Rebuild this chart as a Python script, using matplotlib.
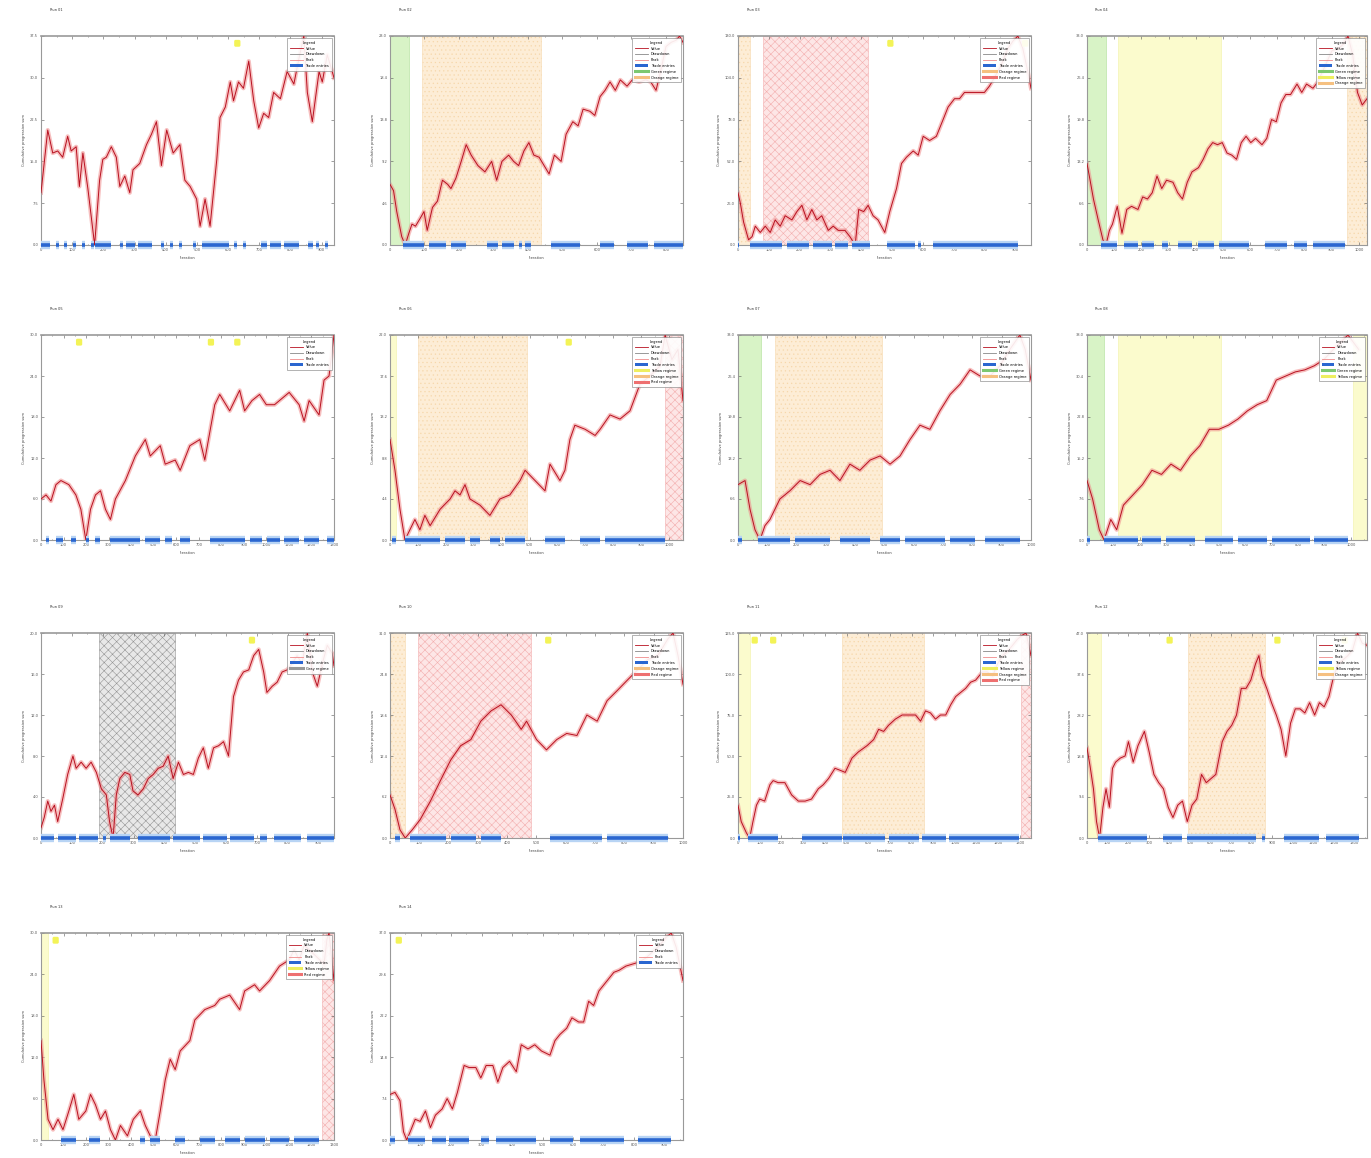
import numpy as np
import matplotlib
matplotlib.use('Agg')
import matplotlib.pyplot as plt
from matplotlib.lines import Line2D
from matplotlib.patches import Patch
from matplotlib.ticker import MultipleLocator, AutoMinorLocator

# ---- data (x and y in percent of each run's length / peak) ----
titles = ['Run 01', 'Run 02', 'Run 03', 'Run 04', 'Run 05', 'Run 06', 'Run 07',
          'Run 08', 'Run 09', 'Run 10', 'Run 11', 'Run 12', 'Run 13', 'Run 14']
x_max = [940, 850, 950, 1030, 1300, 1050, 1000, 1060, 950, 1000, 1350, 1360, 1300, 960]
y_max = [37.5, 23.0, 130.0, 33.0, 30.0, 22.0, 33.0, 38.0, 20.0, 31.0, 125.0, 47.0, 30.0, 37.0]

x01 = [0, 2.3, 4, 5.7, 7.4, 9.1, 10.3, 12, 13.1, 14.3, 16, 18.3, 20, 21.1, 22.3, 24, 25.7, 26.9, 28.6, 30.3,
       31.4, 33.7, 36, 37.7, 39.4, 41.1, 42.9, 45.1, 47.4, 49.1, 50.9, 53.1, 54.3, 56, 57.7, 60, 61.1, 62.9,
       64.6, 65.7, 67.4, 69.1, 70.9, 72.6, 74.3, 76, 77.7, 79.4, 81.7, 84, 86.3, 88, 89.7, 90.9, 92.6, 94.9,
       96, 97.7, 100]
y01 = [25, 55, 44, 45, 42, 52, 45, 47, 28, 44, 27, 0, 31, 41, 42, 47, 42, 28, 33, 25,
       36, 39, 48, 53, 59, 38, 55, 44, 48, 31, 28, 22, 9, 22, 9, 41, 61, 66,
       78, 69, 78, 75, 88, 69, 56, 63, 61, 73, 70, 83, 77, 89, 100, 73, 59, 83,
       78, 91, 80]

x02 = [0, 1.2, 2.3, 4, 5.2, 6.4, 7.5, 8.7, 10.4, 11.6, 12.7, 14.5, 16.2, 17.9, 19.7, 20.8, 22.5, 24.3, 26,
       27.7, 30, 32.4, 34.7, 36.4, 38.2, 40.5, 42.2, 43.9, 45.7, 47.4, 49.1, 50.9, 52.6, 54.3, 56.1, 58.4,
       60.1, 62.4, 64.2, 65.9, 68.2, 69.9, 71.7, 73.4, 75.1, 76.9, 78.6, 80.9, 82.7, 85, 87.3, 89, 90.8,
       92.5, 94.2, 96, 97.7, 98.8, 100]
y02 = [29, 26, 16, 4, 0, 5.5, 10, 9, 13, 16, 7, 18, 21, 31, 29, 27, 32, 40, 48,
       43, 38, 35, 40, 31, 40, 43, 40, 38, 45, 49, 43, 42, 38, 34, 43, 40,
       53, 59, 57, 65, 64, 62, 71, 74, 78, 74, 79, 76, 79, 78, 79, 78, 74,
       84, 95, 97, 98, 100, 97]

x03 = [0, 0.8, 1.9, 3.6, 4.8, 5.9, 7.6, 9.3, 11, 12.7, 14.4, 16.1, 18.4, 20.1, 21.8, 23.5, 25.2, 26.9, 28.6,
       30.8, 32.5, 34.2, 36.5, 38.2, 40, 41.2, 42.9, 44.4, 46.1, 47.8, 50.1, 51.8, 54.1, 55.8, 57.5, 59.8,
       61.5, 63.2, 65.4, 67.7, 70, 71.7, 73.9, 75.6, 77.3, 79.6, 81.9, 84.1, 85.8, 87.5, 89.8, 92.1, 93.8,
       95.5, 97.2, 98.9, 100]
y03 = [25, 20, 11, 2.5, 4, 9, 6, 9, 6, 12, 9, 14, 12, 16, 19, 12, 17, 12, 14,
       7, 9, 7, 7, 4, 0, 17, 16, 19, 14, 12, 6, 16, 27, 39, 42, 45,
       43, 52, 50, 52, 60, 66, 70, 70, 73, 73, 73, 73, 76, 80, 86, 94, 97.5,
       100, 94, 83, 75]

x04 = [0, 1.1, 2.3, 4, 5.7, 6.8, 8, 9.1, 10.8, 12.5, 14.2, 15.9, 18.2, 19.9, 21.6, 23.3, 25, 26.7, 28.4,
       30.7, 32.4, 34.1, 35.8, 37.5, 39.8, 41.5, 43.2, 44.9, 46.6, 48.3, 50, 51.7, 53.4, 55.1, 56.8, 58.5,
       60.2, 62.5, 64.2, 65.9, 67.6, 69.3, 71, 72.7, 75, 76.7, 78.4, 80.7, 82.4, 84.1, 85.8, 87.5, 89.8,
       91.5, 93.2, 94.9, 96.6, 98.3, 100]
y04 = [39, 31, 22, 12, 2.4, 0, 7, 10, 18.5, 5.6, 17, 18.5, 17, 23, 22, 25, 33, 27, 31,
       30, 25, 22, 30, 35, 37, 41, 46, 49, 48, 49, 44, 43, 41, 49, 52, 49,
       51, 48, 51, 60, 59, 68, 72, 72, 77, 73, 77, 75, 78, 83, 88, 93, 94,
       96, 100, 91, 73, 67, 70]

x05 = [0, 1.7, 3.4, 5.1, 6.8, 9.5, 11.9, 13.6, 15.3, 16.9, 18.6, 20.3, 22, 23.7, 25.4, 28.8, 32.2, 35.6,
       37.3, 40.7, 42.4, 45.8, 47.5, 50.8, 54.2, 55.9, 59.3, 61, 64.4, 67.8, 69.5, 72, 74.6, 76.9, 79.7,
       84.7, 88.1, 89.8, 91.5, 94.9, 96.6, 98.3, 100]
y05 = [20, 22, 19, 27, 29, 27, 22, 15, 0, 15, 22, 24, 15, 10, 20, 29, 41, 49,
       41, 46, 37, 39, 34, 46, 49, 39, 66, 71, 63, 73, 63, 68, 71, 66, 66,
       72, 66, 58, 68, 61, 78, 80, 100]

x06 = [0, 1.7, 3.4, 5.1, 6.8, 8.5, 10.2, 11.9, 13.7, 17.1, 20.5, 22.2, 23.9, 25.6, 27.3, 30.7, 34.1,
       37.5, 40.9, 44.4, 46.1, 49.5, 52.9, 54.6, 58, 59.7, 61.4, 63.1, 66.6, 70, 71.7, 75.1, 78.5, 81.9,
       85.3, 88.7, 92.2, 93.9, 96.2, 98.3, 100]
y06 = [49, 34, 15, 0, 5, 10, 5, 12, 7, 15, 20, 24, 22, 27, 20, 17, 12, 20,
       22, 29, 34, 29, 24, 37, 29, 34, 49, 56, 54, 51, 54, 61, 59, 63,
       76, 80, 85, 100, 88, 93, 68]

x07 = [0, 2.4, 4.1, 5.8, 7.5, 9.2, 10.9, 12.6, 14.3, 17.7, 21.2, 24.6, 28, 31.4, 34.8, 38.2, 41.6, 45.1,
       48.5, 51.9, 55.3, 58.7, 62.1, 65.5, 68.9, 72.4, 75.8, 79.2, 82.6, 86, 89.4, 92.8, 96.2, 98.0, 100]
y07 = [27, 29, 15, 5, 0, 7, 10, 15, 20, 24, 29, 27, 32, 34, 29, 37, 34, 39,
       41, 37, 41, 49, 56, 54, 63, 71, 76, 83, 80, 80, 85, 93, 100, 93, 78]

x08 = [0, 2, 4.4, 6.1, 8.5, 10.6, 13, 16.4, 19.8, 23.2, 26.6, 30, 33.4, 36.9, 40.3, 43.7, 47.1, 50.5,
       53.9, 57.3, 60.8, 64.2, 67.6, 71, 74.4, 77.8, 81.2, 84.6, 88, 93.2, 97]
y08 = [29, 20, 5, 0, 10, 5, 17, 22, 27, 34, 32, 37, 34, 41, 46, 54, 54, 56,
       59, 63, 66, 68, 78, 80, 82, 83, 85, 88, 93, 100, 93]

x09 = [0, 1.1, 2.3, 3.4, 4.6, 5.7, 7.4, 9.1, 10.9, 12, 13.7, 15.4, 17.1, 18.9, 20.6, 22.3, 23.4, 24.6,
       25.7, 26.9, 28.6, 30.3, 31.4, 33.1, 34.9, 36.6, 38.3, 40, 41.7, 43.4, 45.1, 46.9, 48.6, 50.3, 52,
       53.7, 55.4, 57.1, 58.9, 60.6, 62.3, 64, 65.7, 67.4, 69.1, 70.9, 72.6, 74.3, 76, 77.1, 78.9, 80.6,
       82.3, 84, 85.7, 87.4, 89.1, 90.9, 92.6, 94.3, 96, 97.7, 99.4, 100]
y09 = [5, 10, 18, 13, 16, 8, 19, 31, 40, 34, 37, 34, 37, 32, 24, 21, 8, 0,
       21, 29, 32, 31, 23, 21, 24, 29, 31, 34, 35, 40, 29, 37, 31, 32, 31,
       39, 44, 34, 44, 45, 47, 40, 69, 77, 81, 82, 89, 92, 81, 71, 74, 76,
       81, 82, 85, 89, 85, 100, 81, 74, 85, 94, 90, 84]

x10 = [0, 1.7, 3.4, 5.2, 7.6, 10.3, 13.8, 17.2, 20.7, 24.1, 27.6, 31, 34.5, 37.9, 41.4, 44.8, 46.6, 50,
       53.4, 56.9, 60.3, 63.8, 67.2, 70.7, 74.1, 77.6, 81, 84.5, 87.9, 91.4, 94.8, 96.6, 98.3, 100]
y10 = [21, 14, 4, 0, 4, 9, 18, 28, 38, 45, 48, 57, 62, 65, 60, 53, 57, 48,
       43, 48, 51, 50, 60, 57, 67, 72, 77, 82, 87, 89, 97, 100, 89, 75]

x11 = [0, 1.1, 2.9, 4, 5.1, 6.3, 7.4, 9.1, 10.9, 12, 13.7, 16, 18.3, 20.6, 22.9, 25.1, 27.4, 29.1, 30.9,
       33.1, 34.9, 36.6, 38.9, 41.1, 44, 46.3, 48, 49.7, 51.4, 53.7, 56, 58.3, 60.6, 62.3, 64, 65.7, 67.4,
       69.1, 70.9, 72.6, 74.3, 76, 77.7, 79.4, 81.1, 83.4, 85.1, 86.9, 88.6, 90.3, 92, 93.7, 95.4, 97.1,
       98.3, 100]
y11 = [16, 8, 2.4, 0, 8, 16, 19, 18, 26, 28, 27, 27, 21, 18, 18, 19, 24, 26, 29,
       34, 33, 32, 39, 42, 45, 48, 53, 52, 55, 58, 60, 60, 60, 57, 62, 61, 58,
       60, 60, 65, 69, 71, 73, 76, 77, 81, 81, 79, 85, 89, 91, 94, 97, 99,
       100, 89]

x12 = [0, 1.1, 2.3, 3.4, 4.5, 5.7, 6.8, 8, 9.1, 10.2, 11.9, 13.6, 14.8, 16.5, 18.2, 20.5, 22.2, 23.9,
       25.6, 27.3, 29, 30.7, 32.4, 34.1, 35.8, 37.5, 39.2, 40.9, 42.6, 44.3, 46, 48.3, 50, 51.7, 53.4,
       55.1, 56.8, 58.5, 60.2, 61.4, 62.5, 64.2, 65.9, 67.6, 69.3, 71, 72.7, 74.4, 76.1, 77.8, 79.5,
       81.3, 83, 84.7, 86.4, 88.1, 89.8, 91.5, 93.2, 94.9, 96.6, 98.3, 100]
y12 = [44, 35, 24, 8, 0, 15, 24, 15, 34, 37, 39, 40, 47, 37, 45, 52, 42, 31,
       27, 24, 15, 10, 16, 18, 8, 16, 19, 31, 27, 29, 31, 47, 52, 55, 60,
       73, 73, 77, 85, 89, 79, 73, 66, 60, 53, 40, 56, 63, 63, 61, 66,
       60, 66, 64, 69, 79, 85, 87, 89, 92, 100, 95, 94]

x13 = [0, 1, 2.4, 4.1, 5.8, 7.5, 9.5, 11.2, 12.9, 15.3, 16.9, 18.6, 20.3, 22, 23.7, 25.4, 27.1, 29.5,
       31.5, 33.9, 35.6, 37.3, 39, 40.7, 42.4, 44.1, 45.8, 47.5, 50.8, 52.5, 55.9, 59.3, 61, 64.4, 67.8,
       69.5, 72.9, 74.6, 78, 81.4, 84.7, 86.4, 88.1, 89.8, 91.5, 96.6, 97.6, 98.3, 100]
y13 = [48, 29, 10, 5, 10, 5, 14, 22, 10, 14, 22, 17, 10, 14, 5, 0, 7, 2,
       10, 14, 7, 2, 0, 14, 29, 39, 34, 43, 48, 58, 63, 65, 68, 70, 63,
       72, 75, 72, 77, 84, 87, 92, 87, 94, 92, 85, 97, 100, 77]

x14 = [0, 1.7, 3.4, 4.6, 5.7, 6.9, 8.6, 10.3, 12.1, 13.8, 15.5, 17.8, 19.5, 21.3, 23, 25.3, 27, 29.3, 31,
       32.8, 35.1, 36.8, 38.5, 40.8, 43.1, 44.8, 47.1, 49.4, 51.7, 54.6, 56.3, 58, 60.3, 62.1, 64.4, 66.1,
       67.8, 69.5, 71.3, 73, 74.7, 76.4, 78.2, 80.5, 82.8, 85.1, 87.4, 89.7, 92, 94.3, 96, 97.7, 100]
y14 = [22, 23, 19, 4, 0, 4, 10, 9, 14, 6, 12, 15, 20, 15, 23, 36, 35, 35, 30,
       36, 36, 28, 35, 38, 33, 46, 44, 46, 43, 41, 48, 51, 54, 59, 57, 57,
       67, 65, 72, 75, 78, 81, 82, 84, 85, 86, 88, 91, 94, 98, 100, 93, 77]

line_x = [x01, x02, x03, x04, x05, x06, x07, x08, x09, x10, x11, x12, x13, x14]
line_y = [y01, y02, y03, y04, y05, y06, y07, y08, y09, y10, y11, y12, y13, y14]

# shaded regimes: (start %, end %, kind)
regimes = [
    [],
    [(0, 6.4, 'green'), (11, 51.4, 'orange')],
    [(0, 4.2, 'orange'), (8.7, 44.4, 'red')],
    [(0, 6.8, 'green'), (11.1, 47.7, 'yellow'), (93, 100, 'orange')],
    [],
    [(0, 2, 'yellow'), (9.6, 46.8, 'orange'), (93.9, 100, 'red')],
    [(0, 8, 'green'), (12.6, 49, 'orange')],
    [(0, 6, 'green'), (11, 48, 'yellow'), (95, 100, 'yellow')],
    [(19.7, 45.7, 'gray')],
    [(0, 5, 'orange'), (9.7, 48, 'red')],
    [(0, 4, 'yellow'), (35.4, 63.4, 'orange'), (96.6, 100, 'red')],
    [(0, 5.1, 'yellow'), (36.1, 63.6, 'orange')],
    [(0, 2.4, 'yellow'), (96, 100, 'red')],
    [],
]

# trade entry clusters along the bottom (start %, end %)
trades = [
    [(0, 3), (5, 6), (8, 9), (11, 12), (14, 15), (17, 18), (18.5, 24), (27, 28), (29, 32), (33, 38), (41, 42),
     (44, 45), (47, 48), (52, 53), (55, 64), (66, 67), (69, 70), (75, 77), (78, 82), (83, 88), (91, 93), (94, 95), (97, 98)],
    [(4.6, 11.6), (13.3, 19.1), (20.8, 26), (33, 37), (38.2, 42.2), (43.9, 45), (46.2, 48), (54.9, 64.7),
     (71.7, 76.3), (80.9, 87.9), (90.2, 100)],
    [(0, 0.5), (4.2, 15), (16.8, 24.3), (25.7, 32), (33.1, 37.6), (38.8, 45), (50.7, 60.3), (61.5, 62.6), (66.5, 95.5)],
    [(5.1, 10.8), (13.1, 18.2), (19.5, 23.9), (26.7, 29), (32.4, 37.5), (39.8, 45.5), (47.2, 58), (63.6, 71.6),
     (73.9, 78.4), (80.7, 92)],
    [(1.7, 2.7), (5.1, 7.5), (10.2, 11.9), (15.3, 16.3), (18.6, 20.3), (23.7, 33.9), (35.6, 40.7), (42.4, 44.7),
     (47.5, 50.8), (57.6, 69.5), (71.2, 75.3), (77.3, 81.4), (83, 88.1), (89.8, 94.9), (97.6, 100)],
    [(0.7, 2), (5.1, 17.1), (18.8, 25.6), (27.3, 30.7), (34.1, 37.5), (39.2, 46.1), (52.9, 59.7), (64.8, 71.7), (73.4, 93.9)],
    [(0, 1.4), (6.8, 17.7), (19.5, 31.4), (34.8, 45.1), (48.5, 55.3), (57, 70.6), (72.4, 80.9), (84.3, 96.2)],
    [(0, 1), (6.1, 18.1), (19.8, 26.6), (28.3, 38.6), (42, 52.2), (53.9, 64.2), (65.9, 79.5), (81.2, 93.2)],
    [(0, 4.6), (5.7, 12), (13.1, 19.4), (21.1, 22.3), (23.4, 30.3), (33.1, 44), (45.1, 54.3), (55.4, 63.4),
     (64.6, 72.6), (74.9, 77.1), (79.4, 88.6), (90.9, 100)],
    [(1.7, 3.4), (6.9, 19), (20.7, 29.3), (31, 37.9), (54.5, 72.4), (74.1, 94.8)],
    [(0, 0.6), (3.4, 13.7), (21.7, 35.4), (36, 50.3), (51.4, 61.7), (62.9, 70.9), (72, 96)],
    [(4, 21.6), (27.3, 34.1), (35.8, 60.2), (62.5, 63.6), (70.5, 83), (85.2, 97)],
    [(6.8, 11.9), (16.3, 20.3), (33.9, 35.6), (37.3, 40.7), (45.8, 49.2), (54.2, 59.3), (62.7, 67.8),
     (69.5, 76.3), (78, 84.7), (86.4, 94.9)],
    [(0, 1.7), (6.3, 12.1), (14.4, 19), (20.1, 27), (31, 33.9), (36.2, 50), (54.6, 62.6), (64.9, 79.9), (84.5, 96)],
]

# small yellow event flags at the top (x %)
flags = [[67], [], [52, 98], [], [13, 58, 67], [61], [], [], [72], [54], [5.7, 12], [29.5, 68, 92], [5], [3]]

# ---- styling ----
regime_style = {
    'green':  dict(facecolor='#d4f2c0', edgecolor='#a8dc90', hatch=None, alpha=0.9),
    'yellow': dict(facecolor='#fbfbc8', edgecolor='#f0f0a0', hatch=None, alpha=0.9),
    'orange': dict(facecolor='#fdecd2', edgecolor='#f6d6a8', hatch='....', alpha=0.9),
    'red':    dict(facecolor='#fde4e4', edgecolor='#f2a8a8', hatch='xxxx', alpha=0.9),
    'gray':   dict(facecolor='#e6e6e6', edgecolor='#8c8c8c', hatch='xxxx', alpha=0.9),
}
regime_line = {'green': '#7cc870', 'yellow': '#eeee60', 'orange': '#f5c080', 'red': '#ee7070', 'gray': '#999999'}

plt.rcParams['hatch.linewidth'] = 0.4
plt.rcParams['font.family'] = ['DejaVu Sans']
FS = 2.6

W, H = 1371, 1158
fig = plt.figure(figsize=(W / 100, H / 100), dpi=100)

col_left = [41, 390, 738, 1087]
col_width = [293, 293, 293, 280]
row_top = [36, 335, 633, 933]
row_bot = [245, 540, 838, 1140]

for i in range(14):
    r, c = divmod(i, 4)
    L, T, B = col_left[c], row_top[r], row_bot[r]
    ax = fig.add_axes([L / W, 1 - B / H, col_width[c] / W, (B - T) / H])
    xm, ym = x_max[i], y_max[i]
    xs = np.array(line_x[i]) / 100 * xm
    ys = np.array(line_y[i]) / 100 * ym

    for s, e, kind in regimes[i]:
        st = regime_style[kind]
        ax.axvspan(s / 100 * xm, e / 100 * xm, facecolor=st['facecolor'], edgecolor=st['edgecolor'],
                   hatch=st['hatch'], alpha=st['alpha'], lw=0.4, zorder=0)

    ax.plot(xs, ys, color='#f08a8a', lw=3.0, alpha=0.55, solid_joinstyle='round', zorder=2)
    ax.plot(xs, ys, color='#b81020', lw=0.7, zorder=3)

    for s, e in trades[i]:
        ax.hlines(0, s / 100 * xm, e / 100 * xm, color='#b8d4f4', lw=6, zorder=4, clip_on=False)
        ax.hlines(0, s / 100 * xm, e / 100 * xm, color='#2a66d0', lw=2.6, zorder=5, clip_on=False)

    for f in flags[i]:
        ax.text(f / 100 * xm, ym * 0.965, '   ', fontsize=FS, ha='center', va='center', zorder=6,
                bbox=dict(boxstyle='round,pad=0.4', facecolor='#f2f23a', edgecolor='none', alpha=0.85))

    ax.set_xlim(0, xm)
    ax.set_ylim(0, ym)
    ax.xaxis.set_major_locator(MultipleLocator(100))
    ax.set_yticks(np.linspace(0, ym, 6))
    ax.yaxis.set_major_formatter(matplotlib.ticker.FormatStrFormatter('%.1f'))
    ax.xaxis.set_minor_locator(AutoMinorLocator(2))
    ax.tick_params(which='both', direction='in', top=True, right=True, labelsize=FS,
                   length=2, width=0.4, colors='#555555', pad=2)
    ax.tick_params(which='minor', length=1)
    for sp in ax.spines.values():
        sp.set_color('#999999')
        sp.set_linewidth(0.8)
    ax.spines['top'].set_linewidth(1.2)

    ax.set_xlabel('Iteration', fontsize=FS, color='#444444', labelpad=3)
    ax.set_ylabel('Cumulative progression sum', fontsize=FS, color='#444444', labelpad=3)
    ax.text(0.03, 1.12, titles[i], transform=ax.transAxes, fontsize=FS, color='#333333', ha='left')

    handles = [Line2D([], [], color='#b81020', lw=0.6),
               Line2D([], [], color='#888888', lw=0.6),
               Line2D([], [], color='#f08a8a', lw=0.6),
               Patch(facecolor='#2a66d0', edgecolor='none')]
    labels = ['Value', 'Drawdown', 'Peak', 'Trade entries']
    seen = []
    for _, _, kind in regimes[i]:
        if kind not in seen:
            seen.append(kind)
    for kind in seen:
        handles.append(Line2D([], [], color=regime_line[kind], lw=2.2))
        labels.append(kind.capitalize() + ' regime')
    leg = ax.legend(handles, labels, loc='upper right', fontsize=FS, title='Legend', title_fontsize=FS,
                    frameon=True, fancybox=False, edgecolor='#888888', framealpha=0.9,
                    handlelength=3.5, borderpad=0.8, labelspacing=0.5)
    leg.get_frame().set_linewidth(0.5)
    leg.set_zorder(10)

fig.savefig('out.png', dpi=100)
